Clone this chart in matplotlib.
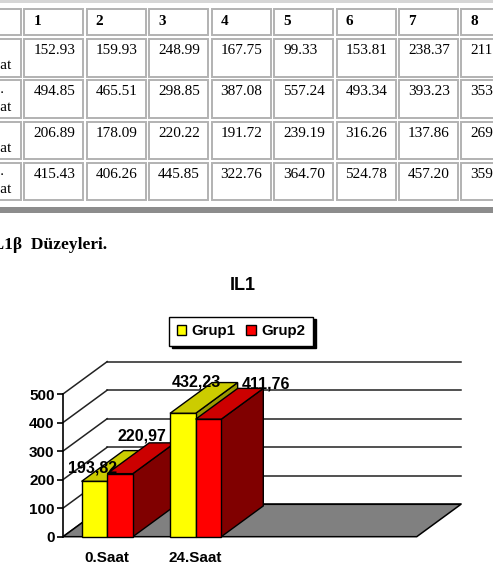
import matplotlib
matplotlib.use("Agg")
import matplotlib.pyplot as plt
from matplotlib.patches import Rectangle, Polygon, Patch

# ---------------- data ----------------
col_headers = ["1", "2", "3", "4", "5", "6", "7", "8"]
row_label_top = ["0.", "24.", "0.", "24."]
row_label_bottom = ["Saat", "Saat", "Saat", "Saat"]
grup1_0saat = ["152.93", "159.93", "248.99", "167.75", "99.33", "153.81", "238.37", "211"]
grup1_24saat = ["494.85", "465.51", "298.85", "387.08", "557.24", "493.34", "393.23", "353"]
grup2_0saat = ["206.89", "178.09", "220.22", "191.72", "239.19", "316.26", "137.86", "269"]
grup2_24saat = ["415.43", "406.26", "445.85", "322.76", "364.70", "524.78", "457.20", "359"]
table_rows = [grup1_0saat, grup1_24saat, grup2_0saat, grup2_24saat]

caption = "IL1β  Düzeyleri."
chart_title = "IL1"
categories = ["0.Saat", "24.Saat"]
series_names = ["Grup1", "Grup2"]
grup1_means = [193.82, 432.23]
grup2_means = [220.97, 411.76]
y_ticks = [0, 100, 200, 300, 400, 500]

# ---------------- layout / style ----------------
W, H = 493, 583
SERIF = ["Liberation Serif", "DejaVu Serif"]
SANS = ["Liberation Sans", "DejaVu Sans"]
FRONT = ["#FFFF00", "#FF0000"]
TOP = ["#CCCC00", "#CC0000"]
SIDE = ["#999900", "#800000"]
N_SLOTS = 4            # category slots on the floor (two are empty)
DEPTH_X = 0.5          # 3-D depth offset in category units
DEPTH_Y = 113.5        # 3-D depth offset in value units
BAR_DEPTH = 0.95
BAR_W = 0.29
# label offsets (category units, value units) relative to bar front-top centre
LABEL_OFF = {(0, 0): (-0.02, 48), (1, 0): (0.25, 132),
             (0, 1): (0.155, 111), (1, 1): (0.65, 123)}

fig = plt.figure(figsize=(W / 100, H / 100), dpi=100)
fig.patch.set_facecolor("white")

# ---------- background axes in pixel units (table + caption) ----------
bg = fig.add_axes([0, 0, 1, 1])
bg.set_xlim(0, W)
bg.set_ylim(H, 0)
bg.axis("off")

# top and bottom table bands
bg.add_patch(Rectangle((0, 0), W, 3, facecolor="#d6d6d6", edgecolor="none"))
bg.add_patch(Rectangle((0, 207.3), W, 5.4, facecolor="#8c8c8c", edgecolor="none"))

cell_border = "#b2b2b2"
col_left0, col_pitch, col_w = 24.3, 62.45, 59
head_top, head_h = 9, 26
row_top0, row_pitch, row_h = 39, 41.3, 37.5
label_x = -15

# header row
bg.add_patch(Rectangle((-10, head_top), 30.7, head_h, facecolor="white",
                       edgecolor=cell_border, lw=1.4))
for j, h in enumerate(col_headers):
    x = col_left0 + j * col_pitch
    bg.add_patch(Rectangle((x, head_top), col_w, head_h, facecolor="white",
                           edgecolor=cell_border, lw=1.4))
    bg.text(x + 9, head_top + 16, h, family=SERIF, fontsize=11,
            fontweight="bold", va="baseline", ha="left")

for i, row in enumerate(table_rows):
    top = row_top0 + i * row_pitch
    bg.add_patch(Rectangle((-10, top), 30.7, row_h, facecolor="white",
                           edgecolor=cell_border, lw=1.4))
    bg.text(label_x, top + 12.5, row_label_top[i], family=SERIF, fontsize=11,
            va="baseline", ha="left")
    bg.text(label_x, top + 30.3, row_label_bottom[i], family=SERIF, fontsize=11,
            va="baseline", ha="left")
    for j, val in enumerate(row):
        x = col_left0 + j * col_pitch
        bg.add_patch(Rectangle((x, top), col_w, row_h, facecolor="white",
                               edgecolor=cell_border, lw=1.4))
        bg.text(x + 9, top + 15, val, family=SERIF, fontsize=11,
                va="baseline", ha="left")

bg.text(-14.4, 249.3, caption, family=SERIF, fontsize=12.5,
        fontweight="bold", va="baseline", ha="left")

# chart title
bg.text(243, 285, chart_title, family=SANS, fontsize=13, fontweight="bold",
        ha="center", va="center")

# ---------------- chart axes ----------------
L, R, T, B = 40, 480, 350, 570
x_px0, x_scale = 63.0, 88.43      # px of x=0, px per category
y_px0, y_scale = 536.7, 0.2854    # px of value 0, px per value unit
ax = fig.add_axes([L / W, 1 - B / H, (R - L) / W, (B - T) / H])
ax.set_xlim((L - x_px0) / x_scale, (R - x_px0) / x_scale)
ax.set_ylim(-(B - y_px0) / y_scale, (y_px0 - T) / y_scale)
ax.patch.set_visible(False)

top_val = y_ticks[-1]
# back wall grid lines and left wall diagonals
for v in y_ticks:
    ax.plot([DEPTH_X, N_SLOTS + DEPTH_X], [v + DEPTH_Y, v + DEPTH_Y],
            color="#222222", lw=1.1, zorder=1)
    ax.plot([0, DEPTH_X], [v, v + DEPTH_Y], color="#222222", lw=1.1, zorder=1)

# floor
ax.add_patch(Polygon([(0, 0), (N_SLOTS, 0), (N_SLOTS + DEPTH_X, DEPTH_Y),
                      (DEPTH_X, DEPTH_Y)], closed=True, facecolor="#808080",
                     edgecolor="black", lw=1.1, zorder=1.5))

# bars
dx, dy = DEPTH_X * BAR_DEPTH, DEPTH_Y * BAR_DEPTH
series = [grup1_means, grup2_means]
z = 3
for ci in range(len(categories)):
    centre = ci + 0.5
    for si, vals in enumerate(series):
        v = vals[ci]
        x0 = centre - BAR_W + si * BAR_W
        x1 = x0 + BAR_W
        ax.add_patch(Polygon([(x1, 0), (x1 + dx, dy), (x1 + dx, v + dy), (x1, v)],
                             closed=True, facecolor=SIDE[si], edgecolor="black",
                             lw=1, zorder=z))
        ax.add_patch(Polygon([(x0, v), (x1, v), (x1 + dx, v + dy), (x0 + dx, v + dy)],
                             closed=True, facecolor=TOP[si], edgecolor="black",
                             lw=1, zorder=z + 0.1))
        ax.bar(x0, v, width=BAR_W, align="edge", color=FRONT[si],
               edgecolor="black", lw=1, zorder=z + 0.2)
        z += 1

# value labels
for si, vals in enumerate(series):
    for ci, v in enumerate(vals):
        fx = ci + 0.5 - BAR_W / 2 + si * BAR_W
        ox, oy = LABEL_OFF[(si, ci)]
        ax.text(fx + ox, v + oy, f"{v:.2f}".replace(".", ","), family=SANS,
                fontsize=11.5, fontweight="bold", ha="center", va="center",
                zorder=50)

# axes: left spine as value axis
for s in ["top", "right"]:
    ax.spines[s].set_visible(False)
ax.spines["left"].set_position(("data", 0))
ax.spines["left"].set_bounds(0, top_val)
ax.spines["left"].set_linewidth(1.2)
ax.spines["left"].set_zorder(20)
ax.spines["bottom"].set_position(("data", 0))
ax.spines["bottom"].set_visible(False)
ax.set_yticks(y_ticks)
ax.set_yticklabels([str(t) for t in y_ticks], family=SANS, fontsize=11,
                   fontweight="bold")
ax.tick_params(axis="y", direction="out", length=4, width=1.2, pad=2)
ax.set_xticks([c + 0.5 for c in range(len(categories))])
ax.set_xticklabels(categories, family=SANS, fontsize=11, fontweight="bold")
ax.tick_params(axis="x", length=0, pad=10)

# legend
handles = [Patch(facecolor=FRONT[0], edgecolor="black", lw=1),
           Patch(facecolor=FRONT[1], edgecolor="black", lw=1)]
leg = fig.legend(handles, series_names, loc="upper left",
                 bbox_to_anchor=(169 / W, 1 - 316.7 / H), ncol=2,
                 fancybox=False, edgecolor="black", framealpha=1,
                 shadow={"color": "black", "alpha": 1},
                 prop={"family": SANS, "size": 10.8, "weight": "bold"},
                 handlelength=0.62, handleheight=0.7, handletextpad=0.4,
                 columnspacing=0.7, borderpad=0.5, borderaxespad=0)
leg.get_frame().set_linewidth(1)

fig.savefig("out.png", dpi=100)
